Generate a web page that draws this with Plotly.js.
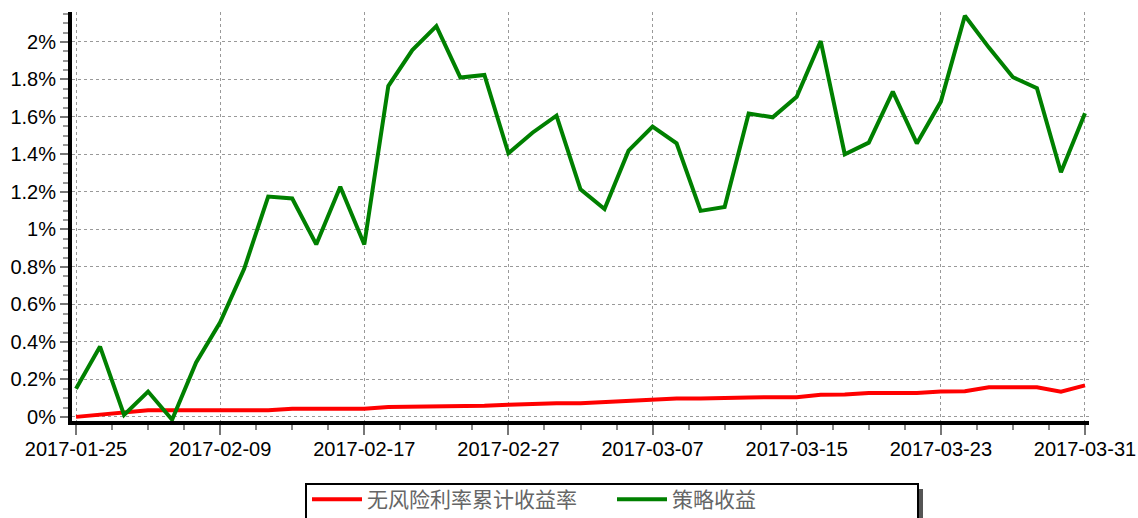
<!DOCTYPE html>
<html>
<head>
<meta charset="utf-8">
<script src="https://cdn.plot.ly/plotly-3.0.1.min.js"></script>
<style>
  html, body { margin: 0; padding: 0; background: #fff; }
  #chart { width: 1138px; height: 518px; }
</style>
</head>
<body>
<div id="chart"></div>
<script>
// Trading days (category labels)
const dates = [
  "2017-01-25","2017-01-26","2017-02-03","2017-02-06","2017-02-07","2017-02-08",
  "2017-02-09","2017-02-10","2017-02-13","2017-02-14","2017-02-15","2017-02-16",
  "2017-02-17","2017-02-20","2017-02-21","2017-02-22","2017-02-23","2017-02-24",
  "2017-02-27","2017-02-28","2017-03-01","2017-03-02","2017-03-03","2017-03-06",
  "2017-03-07","2017-03-08","2017-03-09","2017-03-10","2017-03-13","2017-03-14",
  "2017-03-15","2017-03-16","2017-03-17","2017-03-20","2017-03-21","2017-03-22",
  "2017-03-23","2017-03-24","2017-03-27","2017-03-28","2017-03-29","2017-03-30",
  "2017-03-31"
];
// Tick labels shown on the x axis
const tickDates = ["2017-01-25","2017-02-09","2017-02-17","2017-02-27","2017-03-07","2017-03-15","2017-03-23","2017-03-31"];

// Series names
const nameBenchmark = "无风险利率累计收益率";
const nameStrategy = "策略收益";

// Values in percent
const benchmark = [
  0.000, 0.010, 0.020, 0.035, 0.035, 0.035, 0.035, 0.035, 0.035, 0.043,
  0.043, 0.043, 0.043, 0.053, 0.055, 0.055, 0.055, 0.060, 0.065, 0.070,
  0.073, 0.073, 0.080, 0.085, 0.095, 0.098, 0.098, 0.098, 0.103, 0.105,
  0.105, 0.118, 0.119, 0.128, 0.128, 0.128, 0.136, 0.137, 0.158, 0.158,
  0.158, 0.134, 0.168
];
const strategy = [
  0.150, 0.375, 0.010, 0.135, -0.015, 0.290, 0.505, 0.790, 1.175, 1.165,
  0.920, 1.228, 0.920, 1.765, 1.957, 2.085, 1.810, 1.824, 1.406, 1.516,
  1.607, 1.214, 1.109, 1.420, 1.548, 1.459, 1.099, 1.120, 1.619, 1.598,
  1.708, 2.005, 1.401, 1.463, 1.735, 1.459, 1.682, 2.140, 1.970, 1.812,
  1.753, 1.305, 1.620
];

const xIdx = dates.map((d, i) => i);
const tickVals = tickDates.map(d => dates.indexOf(d));

const traces = [
  {
    x: xIdx, y: benchmark, type: "scatter", mode: "lines", name: nameBenchmark,
    line: { color: "#ff0000", width: 4 }
  },
  {
    x: xIdx, y: strategy, type: "scatter", mode: "lines", name: nameStrategy,
    line: { color: "#008000", width: 4 }
  }
];

// pixel helpers for paper-positioned decorations
const L = 72, R = 49, T = 12, B = 97, W = 1138, H = 518;
const pw = W - L - R, ph = H - T - B;
const px = v => (v - L) / pw;
const py = v => (H - B - v) / ph;

const layout = {
  width: W, height: H,
  margin: { l: L, r: R, t: T, b: B, pad: 0, autoexpand: false },
  paper_bgcolor: "#ffffff", plot_bgcolor: "#ffffff",
  font: { family: "Liberation Sans, Arial, sans-serif", size: 20, color: "#000" },
  showlegend: true,
  xaxis: {
    type: "linear",
    range: [-0.167, 42.167],
    tickmode: "array", tickvals: tickVals, ticktext: tickDates,
    ticks: "outside", ticklen: 10, tickwidth: 2, tickcolor: "#777",
    ticklabelstandoff: -3,
    showline: true, linecolor: "#000", linewidth: 4,
    showgrid: true, gridcolor: "#999", gridwidth: 1, griddash: "dot",
    zeroline: false, automargin: false,
    minor: { dtick: 1.5, tick0: 0, ticks: "outside", ticklen: 5, tickwidth: 2, tickcolor: "#888", showgrid: false },
    tickfont: { size: 20, color: "#000" }
  },
  yaxis: {
    range: [-0.022, 2.16],
    tickmode: "linear", tick0: 0, dtick: 0.2, ticksuffix: "%",
    ticks: "outside", ticklen: 8, tickwidth: 2, tickcolor: "#777",
    showline: true, linecolor: "#000", linewidth: 4,
    showgrid: true, gridcolor: "#999", gridwidth: 1, griddash: "dot",
    zeroline: false, automargin: false,
    minor: { dtick: 0.05, tick0: 0, ticks: "outside", ticklen: 5, tickwidth: 2, tickcolor: "#999", showgrid: false },
    tickfont: { size: 20, color: "#000" }
  },
  legend: {
    orientation: "h",
    x: px(307), xanchor: "left",
    y: py(479), yanchor: "top",
    bgcolor: "rgba(0,0,0,0)", borderwidth: 0,
    font: { family: "Noto Sans CJK SC, sans-serif", size: 21, color: "#666" },
    itemwidth: 50,
    entrywidth: 240,
    traceorder: "normal"
  },
  shapes: [
    { type: "rect", xref: "paper", yref: "paper",
      x0: px(919), x1: px(923), y0: py(489), y1: py(540),
      fillcolor: "#555", line: { width: 0 }, layer: "below" },
    { type: "rect", xref: "paper", yref: "paper",
      x0: px(306), x1: px(918), y0: py(484), y1: py(540),
      fillcolor: "rgba(255,255,255,0)", line: { color: "#000", width: 2 }, layer: "above" }
  ]
};

Plotly.newPlot("chart", traces, layout, { displayModeBar: false, staticPlot: true });
</script>
</body>
</html>
